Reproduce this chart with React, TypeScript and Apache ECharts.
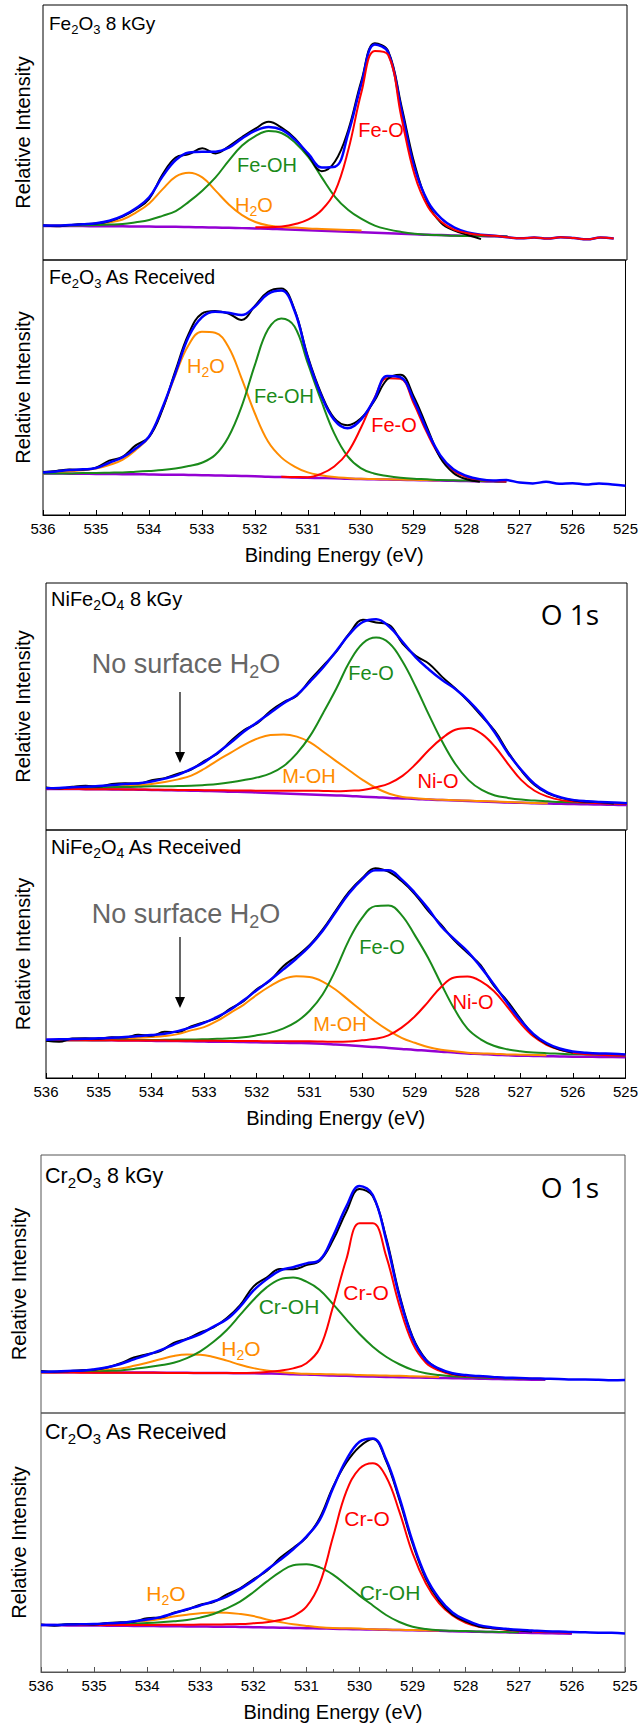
import React, { useEffect, useRef } from 'react';
import * as echarts from 'echarts';

// Binding energy grid (eV)
const energy = [
  536, 535.75, 535.5, 535.25, 535, 534.75, 534.5, 534.25, 534, 533.75, 533.5, 533.25,
  533, 532.75, 532.5, 532.25, 532, 531.75, 531.5, 531.25, 531, 530.75, 530.5, 530.25,
  530, 529.75, 529.5, 529.25, 529, 528.75, 528.5, 528.25, 528, 527.75, 527.5, 527.25,
  527, 526.75, 526.5, 526.25, 526, 525.75, 525.5, 525.25, 525,
];
const xTicks = { min: 525, max: 536, step: 1 };
const N = null;

// ---- Fe2O3 8 kGy ----
const fe8Blue = [13.5, 13.5, 13.7, 14.0, 14.4, 15.4, 17.3, 20.3, 24.6, 32.7, 39.2, 42.2, 42.5, 42.5, 44.1, 47.7, 50.7, 52.2, 51.0, 47.1, 41.6, 36.3, 36.6, 49.7, 69.3, 84.5, 81.5, 59.0, 35.9, 22.9, 16.3, 12.7, 10.8, 9.9, 9.5, 8.9, 8.5, 8.8, 8.4, 8.9, 8.6, 8.1, 8.8, 8.4, N];
const fe8Black = [13.6, 13.2, 13.7, 14.1, 14.3, 15.2, 17.0, 19.9, 24.0, 33.5, 40.2, 41.5, 43.8, 41.8, 44.6, 48.2, 51.5, 54.2, 51.8, 47.6, 41.0, 34.8, 38.6, 51.0, 70.5, 85.0, 82.0, 60.5, 37.5, 22.0, 14.5, 11.5, 9.8, 8.2, N, N, N, N, N, N, N, N, N, N, N];
const fe8Red = [N, N, N, N, N, N, N, N, N, N, N, N, N, N, N, N, 12.8, 12.8, 13.1, 14.1, 15.9, 19.6, 26.8, 43.1, 66.0, 82.0, 80.5, 56.0, 33.3, 20.9, 15.0, 11.8, 10.5, 9.8, 9.5, 8.9, 8.5, 8.8, 8.4, 8.9, 8.6, 8.1, 8.8, 8.4, N];
const fe8Green = [13.3, 13.3, 13.5, 13.6, 13.7, 13.9, 14.1, 14.8, 15.7, 17.3, 19.2, 22.9, 27.2, 32.4, 39.0, 44.9, 48.6, 50.6, 49.7, 46.0, 40.3, 32.4, 24.8, 19.6, 16.1, 13.5, 12.0, 11.0, 10.3, 9.9, 9.7, 9.5, 9.4, 9.4, 9.3, 9.2, N, N, N, N, N, N, N, N, N];
const fe8Orange = [13.5, 13.5, 13.6, 13.7, 14.1, 14.8, 15.9, 18.6, 22.2, 27.7, 32.7, 34.2, 32.4, 27.2, 21.8, 17.6, 14.9, 13.5, 12.9, 12.7, 12.4, 12.2, 12.0, 11.8, 11.6, N, N, N, N, N, N, N, N, N, N, N, N, N, N, N, N, N, N, N, N];
const fe8Purple = [13.3, 13.3, 13.3, 13.3, 13.2, 13.2, 13.2, 13.1, 13.1, 13.0, 13.0, 12.9, 12.8, 12.7, 12.6, 12.5, 12.4, 12.3, 12.1, 11.9, 11.7, 11.5, 11.3, 11.1, 10.9, 10.7, 10.5, 10.3, 10.1, 9.9, 9.8, 9.6, 9.5, 9.4, 9.3, 9.2, N, N, N, N, N, N, N, N, N];

// ---- Fe2O3 As Received ----
const feArBlue = [16.7, 17.1, 17.6, 17.9, 18.4, 20.5, 22.6, 26.1, 30.7, 41.8, 55.6, 69.9, 77.5, 79.7, 79.3, 78.4, 81.7, 86.7, 88.0, 80.1, 61.5, 47.1, 37.3, 34.0, 37.3, 45.1, 54.5, 54.0, 45.1, 33.3, 23.5, 17.9, 15.3, 14.0, 13.5, 13.7, 12.7, 12.4, 13.0, 12.3, 12.5, 12.0, 12.4, 12.0, 11.5];
const feArBlack = [16.9, 17.3, 17.8, 17.7, 18.6, 21.3, 22.8, 27.3, 30.5, 41.0, 56.5, 71.0, 79.0, 80.0, 79.0, 76.5, 82.0, 87.5, 88.8, 80.5, 62.2, 47.8, 38.0, 35.2, 37.8, 44.5, 53.2, 55.0, 46.5, 34.5, 22.5, 16.5, 14.0, 13.0, N, N, N, N, N, N, N, N, N, N, N];
const feArRed = [N, N, N, N, N, N, N, N, N, N, N, N, N, N, N, N, N, N, 15.0, 14.9, 14.8, 16.1, 19.0, 24.4, 34.0, 45.4, 53.6, 53.4, 43.8, 32.3, 22.9, 17.4, 14.8, 13.7, 13.3, 13.1, N, N, N, N, N, N, N, N, N];
const feArGreen = [16.3, 16.3, 16.3, 16.5, 16.5, 16.6, 16.7, 17.0, 17.3, 17.6, 18.2, 19.2, 20.5, 23.5, 30.5, 42.5, 58.8, 72.8, 77.1, 73.9, 59.5, 45.1, 32.0, 23.1, 18.4, 16.3, 15.3, 14.6, 14.2, 14.0, 13.7, 13.6, 13.5, 13.3, 13.2, 13.1, N, N, N, N, N, N, N, N, N];
const feArOrange = [16.3, 16.7, 17.1, 17.5, 18.2, 19.6, 21.6, 25.5, 30.5, 41.2, 54.9, 66.7, 71.9, 71.5, 66.0, 53.6, 39.9, 28.8, 22.6, 19.0, 16.7, 15.6, 14.9, 14.5, 14.2, 14.1, 14.0, 13.9, 13.8, 13.7, 13.6, N, N, N, N, N, N, N, N, N, N, N, N, N, N];
const feArPurple = [16.3, 16.3, 16.2, 16.2, 16.1, 16.1, 16.0, 16.0, 15.9, 15.8, 15.8, 15.7, 15.6, 15.5, 15.4, 15.3, 15.2, 15.0, 14.9, 14.7, 14.6, 14.5, 14.4, 14.2, 14.1, 14.0, 13.9, 13.8, 13.7, 13.6, 13.5, 13.4, 13.3, 13.2, 13.1, 13.0, N, N, N, N, N, N, N, N, N];

// ---- NiFe2O4 8 kGy ----
const nf8Blue = [16.9, 17.0, 17.3, 17.5, 17.8, 18.2, 18.6, 18.9, 19.6, 20.8, 22.3, 24.7, 27.5, 31.3, 35.4, 39.9, 43.6, 47.5, 51.3, 54.7, 60.1, 65.9, 72.6, 79.4, 84.2, 85.3, 82.3, 76.2, 69.9, 65.0, 60.7, 57.1, 52.4, 46.6, 39.4, 31.0, 24.3, 18.6, 15.1, 13.2, 12.1, 11.6, 11.3, 11.1, 10.8];
const nf8Black = [17.2, 16.8, 17.5, 17.9, 17.6, 18.6, 18.9, 18.8, 20.2, 21.0, 22.8, 24.5, 28.0, 31.0, 36.0, 40.5, 43.2, 48.2, 51.8, 54.4, 60.8, 66.5, 72.3, 79.8, 85.1, 84.0, 83.0, 75.5, 70.5, 67.3, 62.0, 57.3, 52.0, 46.0, 40.0, 31.5, 24.0, 18.2, 14.8, 13.0, 11.9, 11.4, 11.2, 10.7, N];
const nf8Red = [16.6, 16.6, 16.6, 16.5, 16.5, 16.5, 16.4, 16.4, 16.3, 16.3, 16.2, 16.2, 16.1, 16.1, 16.0, 16.0, 15.9, 15.9, 15.9, 15.9, 15.9, 15.8, 15.7, 15.9, 16.2, 17.3, 18.9, 21.9, 26.7, 32.4, 37.2, 40.6, 41.3, 38.9, 33.7, 26.7, 20.2, 15.9, 13.5, 12.1, 11.5, 11.1, 10.8, 10.7, 10.5];
const nf8Green = [16.6, 16.7, 16.9, 17.0, 17.1, 17.3, 17.4, 17.5, 17.7, 17.7, 17.8, 17.9, 18.2, 18.6, 19.3, 20.2, 21.3, 22.9, 25.9, 31.0, 38.1, 47.5, 57.4, 68.2, 75.6, 77.9, 75.6, 68.2, 58.0, 46.6, 35.8, 26.7, 20.2, 16.2, 14.0, 13.0, 12.3, 11.9, 11.6, 11.3, 11.2, 11.1, 10.9, 10.8, 10.7];
const nf8Orange = [16.6, 16.7, 16.9, 17.0, 17.3, 17.5, 17.8, 18.1, 18.6, 19.4, 20.5, 22.0, 24.8, 28.2, 31.3, 34.5, 37.0, 38.5, 38.7, 37.8, 35.5, 31.7, 27.8, 24.0, 20.2, 17.0, 14.7, 13.4, 12.9, 12.5, 12.2, 12.0, 11.9, 11.7, 11.5, 11.3, 11.1, 10.9, 10.8, N, N, N, N, N, N];
const nf8Purple = [16.6, 16.6, 16.6, 16.5, 16.5, 16.4, 16.4, 16.3, 16.2, 16.1, 16.0, 15.9, 15.8, 15.7, 15.5, 15.4, 15.2, 15.0, 14.8, 14.6, 14.4, 14.2, 14.0, 13.8, 13.5, 13.3, 13.0, 12.8, 12.6, 12.3, 12.1, 11.9, 11.7, 11.5, 11.3, 11.1, 11.0, 10.8, 10.7, 10.6, 10.5, 10.4, 10.3, 10.2, 10.1];

// ---- NiFe2O4 As Received ----
const nfArBlue = [15.4, 15.6, 15.7, 15.8, 16.0, 16.2, 16.5, 16.9, 17.3, 17.8, 18.9, 20.4, 22.2, 24.6, 27.5, 31.3, 35.4, 39.4, 43.7, 48.1, 53.1, 59.3, 66.9, 74.4, 80.1, 83.8, 83.8, 80.1, 74.7, 68.4, 61.2, 56.0, 51.1, 44.8, 37.8, 30.4, 23.5, 17.8, 14.1, 11.9, 10.7, 10.2, 9.9, 9.8, 9.5];
const nfArBlack = [15.0, 14.6, 15.9, 16.0, 15.8, 16.4, 16.3, 17.4, 17.0, 18.6, 18.5, 20.8, 22.5, 24.2, 28.0, 31.0, 35.8, 39.2, 45.0, 49.0, 53.5, 59.8, 67.5, 75.0, 80.5, 84.6, 83.2, 79.4, 74.2, 67.5, 61.8, 55.5, 50.5, 45.5, 37.2, 31.2, 24.0, 17.5, 13.8, 11.5, 10.3, N, N, N, N];
const nfArRed = [15.2, 15.2, 15.2, 15.2, 15.2, 15.2, 15.1, 15.1, 15.1, 15.1, 15.0, 15.0, 15.0, 15.0, 14.9, 14.9, 14.9, 14.8, 14.8, 14.8, 14.8, 14.7, 14.6, 14.7, 15.2, 15.8, 17.2, 20.3, 24.8, 30.6, 36.7, 40.5, 40.9, 39.1, 35.1, 28.9, 22.2, 16.8, 13.4, 11.4, 10.2, 9.6, 9.4, 9.2, 9.1];
const nfArGreen = [15.2, 15.2, 15.2, 15.2, 15.2, 15.3, 15.3, 15.3, 15.3, 15.4, 15.5, 15.5, 15.6, 15.8, 16.0, 16.4, 17.2, 18.2, 19.9, 22.6, 27.0, 33.7, 43.7, 55.6, 64.6, 69.3, 69.6, 65.7, 57.6, 48.6, 38.0, 27.9, 19.9, 15.6, 13.0, 11.6, 10.8, 10.3, 10.0, 9.8, 9.6, 9.5, 9.4, 9.2, 9.1];
const nfArOrange = [15.2, 15.3, 15.4, 15.6, 15.7, 15.8, 16.0, 16.2, 16.5, 16.9, 17.7, 19.2, 20.5, 23.0, 26.3, 29.5, 33.5, 37.0, 39.8, 41.0, 40.7, 38.9, 35.6, 31.3, 27.0, 22.8, 19.2, 16.2, 14.2, 12.5, 11.4, 10.8, 10.2, 9.9, 9.8, 9.5, 9.4, 9.3, 9.2, N, N, N, N, N, N];
const nfArPurple = [15.4, 15.4, 15.3, 15.3, 15.2, 15.2, 15.1, 15.1, 15.0, 14.9, 14.9, 14.8, 14.7, 14.6, 14.6, 14.5, 14.4, 14.3, 14.2, 14.1, 14.0, 13.8, 13.5, 13.2, 12.8, 12.5, 12.1, 11.7, 11.3, 11.0, 10.6, 10.3, 9.9, 9.7, 9.4, 9.2, 9.0, 8.9, 8.8, 8.7, 8.6, 8.6, 8.5, 8.5, 8.4];

// ---- Cr2O3 8 kGy ----
const cr8Blue = [16.0, 16.1, 16.3, 16.4, 16.9, 17.7, 19.0, 20.8, 22.5, 24.4, 26.5, 28.6, 30.6, 33.5, 36.3, 41.2, 47.4, 51.8, 55.2, 56.5, 58.0, 59.3, 68.5, 80.0, 88.0, 84.5, 67.1, 45.1, 28.9, 20.5, 17.2, 15.4, 14.7, 14.3, 14.0, 13.7, 13.6, 13.4, 13.3, 13.2, 13.0, 13.0, 12.9, 12.7, 12.8];
const cr8Black = [16.3, 16.0, 16.2, 16.6, 16.8, 17.6, 19.3, 21.5, 22.8, 24.0, 27.2, 28.8, 31.2, 33.2, 36.8, 41.8, 49.0, 52.5, 55.8, 55.7, 57.3, 59.0, 67.0, 78.0, 86.8, 84.0, 68.0, 46.0, 29.5, 20.8, 17.0, 15.2, 14.5, N, N, N, N, N, N, N, N, N, N, N, N];
const cr8Red = [15.8, 15.7, 15.7, 15.6, 15.6, 15.6, 15.6, 15.6, 15.6, 15.6, 15.5, 15.5, 15.5, 15.5, 15.5, 15.5, 15.6, 15.9, 16.4, 17.3, 19.3, 25.1, 41.2, 59.5, 73.5, 73.5, 60.9, 41.7, 27.0, 19.5, 16.4, 14.9, 14.3, 14.1, 13.8, 13.6, 13.4, 13.3, 13.2, N, N, N, N, N, N];
const cr8Green = [15.8, 15.8, 15.9, 16.0, 16.1, 16.3, 16.5, 17.1, 17.7, 18.5, 19.5, 21.3, 23.9, 27.6, 32.2, 38.0, 43.8, 48.7, 51.8, 52.5, 50.9, 47.7, 42.2, 36.3, 30.6, 25.7, 21.8, 18.9, 16.7, 15.4, 14.7, 14.2, 14.0, 13.8, 13.6, 13.4, 13.3, 13.2, 13.1, N, N, N, N, N, N];
const cr8Orange = [15.8, 15.9, 16.0, 16.1, 16.4, 16.8, 17.3, 18.3, 19.5, 20.8, 22.1, 22.7, 22.6, 21.7, 20.3, 18.7, 17.4, 16.5, 15.9, 15.5, 15.2, 15.1, 15.0, 14.9, 14.7, 14.6, 14.5, 14.4, 14.2, 14.1, 14.0, N, N, N, N, N, N, N, N, N, N, N, N, N, N];
const cr8Purple = [15.8, 15.8, 15.8, 15.8, 15.7, 15.7, 15.7, 15.7, 15.7, 15.6, 15.6, 15.6, 15.5, 15.5, 15.5, 15.4, 15.4, 15.3, 15.2, 15.0, 14.9, 14.7, 14.5, 14.4, 14.2, 14.1, 14.0, 13.9, 13.8, 13.7, 13.6, 13.5, 13.4, 13.3, 13.2, 13.1, 13.0, 12.9, 12.9, N, N, N, N, N, N];

// ---- Cr2O3 As Received ----
const crArBlue = [18.1, 18.1, 18.3, 18.4, 18.5, 18.8, 19.0, 19.6, 20.3, 21.2, 22.7, 24.2, 25.7, 27.3, 29.1, 32.0, 35.3, 39.4, 43.2, 47.4, 52.3, 58.7, 70.9, 81.9, 88.9, 90.2, 82.1, 67.4, 50.3, 36.8, 28.4, 23.0, 20.1, 18.1, 17.2, 16.7, 16.3, 16.0, 15.7, 15.6, 15.4, 15.3, 15.2, 15.2, 14.9];
const crArBlack = [18.3, 17.9, 18.4, 18.5, 18.3, 18.9, 19.2, 19.4, 20.8, 21.0, 22.9, 24.0, 26.0, 27.0, 30.0, 32.3, 35.8, 39.0, 44.0, 47.9, 52.0, 59.5, 71.5, 80.8, 87.0, 90.0, 81.5, 66.5, 49.5, 36.0, 27.5, 22.2, 19.5, 17.6, 16.9, 16.5, 16.0, 15.6, N, N, N, N, N, N, N];
const crArRed = [18.1, 18.1, 18.1, 18.1, 18.1, 18.1, 18.1, 18.1, 18.1, 18.2, 18.2, 18.2, 18.3, 18.3, 18.4, 18.5, 18.8, 19.2, 20.1, 21.6, 25.2, 34.2, 52.1, 69.6, 78.5, 80.6, 75.4, 61.9, 45.8, 34.2, 26.5, 21.8, 19.0, 17.5, 16.9, 16.3, 16.0, 15.7, 15.4, 15.3, 15.2, N, N, N, N];
const crArGreen = [18.1, 18.1, 18.3, 18.3, 18.4, 18.4, 18.5, 18.7, 18.9, 19.2, 19.6, 20.1, 21.0, 22.4, 24.6, 27.2, 30.8, 34.9, 38.6, 41.2, 41.6, 40.4, 37.6, 33.6, 29.5, 25.7, 22.0, 19.3, 17.5, 16.6, 16.1, 15.9, 15.8, 15.6, 15.5, 15.4, 15.3, N, N, N, N, N, N, N, N];
const crArOrange = [18.1, 18.1, 18.3, 18.4, 18.5, 18.7, 18.9, 19.3, 19.8, 20.5, 21.4, 22.1, 22.7, 23.0, 22.9, 22.4, 21.6, 20.3, 19.3, 18.4, 17.8, 17.3, 17.0, 16.9, 16.8, 16.5, 16.4, 16.3, 16.2, 16.1, 16.0, N, N, N, N, N, N, N, N, N, N, N, N, N, N];
const crArPurple = [18.1, 18.1, 18.0, 18.0, 18.0, 17.9, 17.9, 17.8, 17.8, 17.7, 17.7, 17.6, 17.6, 17.5, 17.5, 17.4, 17.3, 17.2, 17.1, 17.0, 16.9, 16.8, 16.7, 16.6, 16.5, 16.4, 16.3, 16.2, 16.1, 16.0, 15.9, 15.7, 15.6, 15.5, 15.4, 15.3, 15.2, 15.1, 15.0, 14.9, 14.8, N, N, N, N];

const FONT = '"Liberation Sans", Arial, Helvetica, sans-serif';
const O1S_FONT = '"Open Sans", "Noto Sans", sans-serif';
const COLORS: Record<string, string> = {
  purple: '#9400d3', orange: '#ff8c00', green: '#1a8a1a', red: '#ff0000', black: '#000000', blue: '#0000ff',
};
const WIDTHS: Record<string, number> = { purple: 2.5, orange: 2, green: 2, red: 2, black: 2, blue: 2.5 };

type Panel = {
  grid: { left: number; top: number; width: number; height: number };
  bottom: boolean;
  yGap: number;
  frame: string;
  order: string[];
  data: Record<string, (number | null)[]>;
};

const DEF_ORDER = ['purple', 'orange', 'green', 'red', 'black', 'blue'];

const panels: Panel[] = [
  { grid: { left: 43, top: 5, width: 584, height: 255 }, bottom: false, yGap: 10, frame: '#000', order: ['purple', 'orange', 'green', 'black', 'blue', 'red'],
    data: { purple: fe8Purple, orange: fe8Orange, green: fe8Green, red: fe8Red, black: fe8Black, blue: fe8Blue } },
  { grid: { left: 43, top: 260, width: 584, height: 255 }, bottom: true, yGap: 10, frame: '#000', order: DEF_ORDER,
    data: { purple: feArPurple, orange: feArOrange, green: feArGreen, red: feArRed, black: feArBlack, blue: feArBlue } },
  { grid: { left: 46, top: 583, width: 581, height: 247 }, bottom: false, yGap: 13, frame: '#000', order: DEF_ORDER,
    data: { purple: nf8Purple, orange: nf8Orange, green: nf8Green, red: nf8Red, black: nf8Black, blue: nf8Blue } },
  { grid: { left: 46, top: 830, width: 581, height: 248 }, bottom: true, yGap: 13, frame: '#000', order: DEF_ORDER,
    data: { purple: nfArPurple, orange: nfArOrange, green: nfArGreen, red: nfArRed, black: nfArBlack, blue: nfArBlue } },
  { grid: { left: 41, top: 1155, width: 584, height: 258 }, bottom: false, yGap: 12, frame: '#555', order: DEF_ORDER,
    data: { purple: cr8Purple, orange: cr8Orange, green: cr8Green, red: cr8Red, black: cr8Black, blue: cr8Blue } },
  { grid: { left: 41, top: 1413, width: 584, height: 259 }, bottom: true, yGap: 12, frame: '#555', order: DEF_ORDER,
    data: { purple: crArPurple, orange: crArOrange, green: crArGreen, red: crArRed, black: crArBlack, blue: crArBlue } },
];

// text annotations: [text (with _x subscripts), x, y, color, fontSize, align, family]
type Lbl = [string, number, number, string, number, string?, string?];
const labels: Lbl[] = [
  ['Fe_2O_3 8 kGy', 49, 23, '#000', 19, 'left'],
  ['Fe_2O_3 As Received', 49, 277, '#000', 19.5, 'left'],
  ['NiFe_2O_4 8 kGy', 51, 599, '#000', 20, 'left'],
  ['NiFe_2O_4 As Received', 51, 847, '#000', 20, 'left'],
  ['Cr_2O_3 8 kGy', 45, 1176, '#000', 21.5, 'left'],
  ['Cr_2O_3 As Received', 45, 1432, '#000', 21.5, 'left'],
  ['Fe-OH', 267, 165, COLORS.green, 20], ['H_2O', 254, 205, COLORS.orange, 20], ['Fe-O', 381, 130, COLORS.red, 20],
  ['H_2O', 206, 366, COLORS.orange, 20], ['Fe-OH', 284, 396, COLORS.green, 20], ['Fe-O', 394, 425, COLORS.red, 20],
  ['Fe-O', 371, 673, COLORS.green, 20], ['M-OH', 309, 776, COLORS.orange, 20], ['Ni-O', 438, 781, COLORS.red, 20],
  ['Fe-O', 382, 947, COLORS.green, 20], ['M-OH', 340, 1024, COLORS.orange, 20], ['Ni-O', 473, 1002, COLORS.red, 20],
  ['Cr-OH', 289, 1306, COLORS.green, 21], ['H_2O', 241, 1348, COLORS.orange, 21], ['Cr-O', 366, 1292, COLORS.red, 21],
  ['Cr-O', 367, 1518, COLORS.red, 21], ['Cr-OH', 390, 1592, COLORS.green, 21], ['H_2O', 166, 1593, COLORS.orange, 21],
  ['No surface H_2O', 186, 664, '#666666', 27], ['No surface H_2O', 186, 914, '#666666', 27],
  ['O 1s', 570, 614, '#000', 28, 'center', O1S_FONT],
  ['O 1s', 570, 1187, '#000', 28, 'center', O1S_FONT],
];
// arrows: [x, yStart, yEnd]
const arrows = [[180, 692, 763], [180, 937, 1008]];

function richText(str: string) {
  let out = '';
  let buf = '';
  for (let i = 0; i < str.length; i++) {
    if (str[i] === '_') {
      if (buf) { out += `{n|${buf}}`; buf = ''; }
      out += `{s|${str[i + 1]}}`;
      i++;
    } else buf += str[i];
  }
  if (buf) out += `{n|${buf}}`;
  return out;
}

function textEl(l: Lbl) {
  const [t, x, y, color, size, align = 'center', family = FONT] = l;
  const sub = Math.round(size * 0.68);
  return {
    type: 'text', x, y, z: 100,
    style: {
      text: richText(t), align, verticalAlign: 'middle', fill: color, fontSize: size, fontFamily: family,
      rich: {
        n: { fontSize: size, fontFamily: family, fill: color, color, lineHeight: size + 6 },
        s: { fontSize: sub, fontFamily: family, fill: color, color, lineHeight: sub, verticalAlign: 'bottom' },
      },
    },
  };
}

export default function App() {
  const ref = useRef<HTMLDivElement>(null);
  useEffect(() => {
    document.body.style.margin = '0';
    if (!ref.current) return;
    const chart = echarts.init(ref.current, null, { renderer: 'svg' });
    const grid: any[] = [];
    const xAxis: any[] = [];
    const yAxis: any[] = [];
    const series: any[] = [];
    panels.forEach((p, i) => {
      grid.push({ ...p.grid, show: true, borderColor: p.frame, borderWidth: 1, backgroundColor: 'transparent' });
      xAxis.push({
        gridIndex: i, type: 'value', min: xTicks.min, max: xTicks.max, interval: xTicks.step, inverse: true,
        show: p.bottom,
        axisLine: { show: true, lineStyle: { color: p.frame, width: 1 } },
        axisTick: { show: true, inside: true, length: 5, lineStyle: { color: p.frame } },
        minorTick: { show: true, splitNumber: 2, length: 3, lineStyle: { color: p.frame } },
        axisLabel: { show: true, fontSize: 15, color: '#000', fontFamily: FONT, margin: 6 },
        splitLine: { show: false },
        name: 'Binding Energy (eV)', nameLocation: 'middle', nameGap: 30,
        nameTextStyle: { fontSize: 20, color: '#000', fontFamily: FONT },
      });
      yAxis.push({
        gridIndex: i, type: 'value', min: 0, max: 100,
        axisLine: { show: false }, axisTick: { show: false }, axisLabel: { show: false }, splitLine: { show: false },
        name: 'Relative Intensity', nameLocation: 'middle', nameGap: p.yGap,
        nameTextStyle: { fontSize: 20, color: '#000', fontFamily: FONT },
      });
      p.order.forEach((k) => {
        const arr = p.data[k];
        series.push({
          type: 'line', xAxisIndex: i, yAxisIndex: i, name: k,
          data: energy.map((e, j) => [e, arr[j] == null ? '-' : arr[j]]),
          showSymbol: false, symbol: 'none', smooth: 0.4, connectNulls: false,
          lineStyle: { color: COLORS[k], width: WIDTHS[k] },
          itemStyle: { color: COLORS[k] },
          z: 2,
        });
      });
    });
    const elements: any[] = labels.map(textEl);
    arrows.forEach(([x, y0, y1]) => {
      elements.push({ type: 'line', z: 100, shape: { x1: x, y1: y0, x2: x, y2: y1 - 9 }, style: { stroke: '#000', lineWidth: 1.2 } });
      elements.push({ type: 'polygon', z: 100, shape: { points: [[x - 5, y1 - 11], [x + 5, y1 - 11], [x, y1]] }, style: { fill: '#000' } });
    });
    chart.setOption({
      animation: false,
      backgroundColor: '#ffffff',
      grid, xAxis, yAxis, series,
      graphic: { elements },
    });
    return () => chart.dispose();
  }, []);
  return <div ref={ref} style={{ width: 641, height: 1728 }} />;
}
